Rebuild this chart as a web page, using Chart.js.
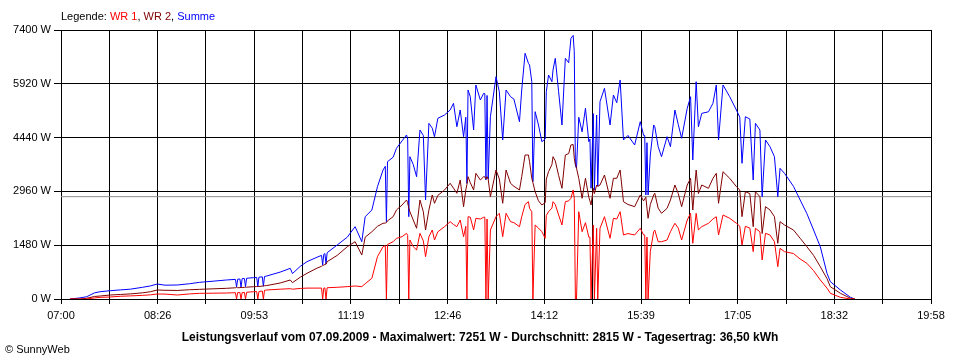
<!DOCTYPE html>
<html>
<head>
<meta charset="utf-8">
<script src="https://cdn.jsdelivr.net/npm/chart.js@4"></script>
<style>
  body { margin: 0; background: #fff; }
  #wrap { position: relative; width: 960px; height: 360px; font-family: "Liberation Sans", Arial, sans-serif; font-size: 11px; color: #000; }
  #legend { position: absolute; left: 61px; top: 10px; white-space: nowrap; }
  #title { position: absolute; left: 0; width: 960px; top: 330px; text-align: center; font-weight: bold; font-size: 12px; white-space: nowrap; }
  #footer { position: absolute; left: 5px; top: 343px; white-space: nowrap; }
  canvas { position: absolute; left: 0; top: 0; }
</style>
</head>
<body>
<div id="wrap">
  <canvas id="chart" width="960" height="360"></canvas>
  <div id="legend">Legende: <span style="color:#ff0000">WR 1</span>, <span style="color:#800000">WR 2</span>, <span style="color:#0000ff">Summe</span></div>
  <div id="title">Leistungsverlauf vom 07.09.2009 - Maximalwert: 7251 W - Durchschnitt: 2815 W - Tagesertrag: 36,50 kWh</div>
  <div id="footer">© SunnyWeb</div>
</div>
<script>
const X_LABELS = ['07:00', '08:26', '09:53', '11:19', '12:46', '14:12', '15:39', '17:05', '18:32', '19:58']
const Y_MAX = 7400
const Y_STEP = 1480
const AVG = 2815

// one row per stretch of the day, same layout in every array
const TIMES = [
  '07:08','07:17','07:23','07:30','07:35','07:44','07:53','08:02','08:13','08:20','08:26','08:33','08:44','08:55',
  '09:04','09:16','09:28','09:36','09:37','09:38','09:40','09:41','09:42','09:44','09:45','09:46','09:52','09:55','09:56','09:57',
  '10:00','10:01','10:02','10:04','10:16','10:25','10:27','10:34','10:40','10:49','10:53','10:54','10:55','10:56','10:57','10:58',
  '11:07','11:16','11:23','11:29','11:32','11:38','11:43','11:48','11:50','11:51','11:52','11:57',
  '12:00','12:05','12:09','12:10','12:11','12:12','12:15','12:18','12:21','12:24','12:26','12:29','12:32','12:34','12:37',
  '12:43','12:48','12:51','12:54','12:57','13:00','13:02','13:03','13:04','13:06','13:09','13:11','13:15','13:18','13:19','13:20','13:21','13:22','13:24',
  '13:29','13:32','13:35','13:38','13:42','13:45','13:50','13:52','13:55','13:58','13:59','14:01','14:02','14:04','14:07','14:10','14:13',
  '14:14','14:16','14:19','14:20','14:22','14:25','14:28','14:31','14:34','14:36','14:38','14:39','14:40','14:41','14:43','14:46','14:49','14:52','14:53','14:54','14:56','14:57','14:59',
  '15:00','15:02','15:06','15:11','15:14','15:17','15:20','15:23','15:27','15:33','15:38','15:41','15:42','15:43','15:44','15:45','15:47','15:50','15:51','15:54','15:57',
  '16:02','16:05','16:09','16:12','16:15','16:20','16:23','16:25','16:28','16:30','16:33','16:39','16:43','16:46','16:48','16:52','16:58',
  '17:04','17:07','17:09','17:12','17:16','17:19','17:21','17:25','17:27','17:30','17:34','17:38','17:41','17:43','17:47','17:55',
  '18:01','18:07','18:13','18:19','18:25','18:28','18:37','18:46','18:50'
]

const SUMME = [
  0, 30, 63, 170, 200, 228, 250, 270, 322, 360, 412, 380, 385, 420,
  459, 490, 523, 540, 330, 545, 550, 330, 560, 565, 340, 570, 587, 595, 340, 600,
  610, 350, 620, 633, 740, 844, 700, 900, 1027, 1150, 1200, 935, 1230, 1250, 960, 1274,
  1486, 1700, 1990, 1576, 2264, 2448, 3089, 3549, 3650, 2127, 3777, 3900,
  4146, 4350, 4512, 4400, 2264, 3915, 3700, 3365, 4649, 4500, 2723, 4833, 4700, 4465, 4971,
  5062, 5200, 5384, 4740, 5199, 4465, 5000, 3180, 5750, 5565, 4649, 5887, 5474, 5659, 5650, 3274, 5600, 3300, 5015,
  6116, 5700, 4374, 5750, 5565, 5500, 4878, 5750, 6759, 6484, 6437, 5978, 3227, 5153, 4787, 4327, 4400,
  5703, 6162, 5978, 6300, 6621, 5703, 4787, 6621, 6500, 7172, 7251, 6800, 3686, 3600, 5000, 4600, 5246, 4327, 4400, 3045, 5100, 3000, 5062,
  3100, 5428, 5796, 4787, 5612, 5400, 6025, 4374, 4500, 4237, 4878, 4500, 4500, 2861, 4300, 2861, 3961, 4787, 4740, 4190, 3915,
  4465, 4190, 5199, 4800, 4420, 5246, 5565, 3824, 5978, 4740, 5107, 5150, 5384, 5887, 4374, 5887, 5565,
  5199, 5000, 3733, 5015, 4950, 3274, 4833, 4649, 2815, 4374, 4190, 3915, 2815, 3595, 3457, 3100,
  2723, 2350, 1898, 1439, 707, 477, 248, 46, 0
]

const WR2 = [
  0, 0, 20, 70, 82, 110, 125, 140, 170, 200, 248, 240, 235, 255,
  266, 280, 294, 309, 320, 310, 312, 320, 315, 320, 320, 325, 338, 342, 345, 345,
  355, 360, 365, 370, 440, 523, 450, 600, 707, 850, 900, 920, 930, 950, 960, 1027,
  1200, 1439, 1576, 1210, 1700, 1850, 2000, 2083, 2090, 2100, 2150, 2264,
  2450, 2586, 2723, 2650, 2500, 2402, 2173, 1945, 2723, 2400, 1898, 2450, 2861, 2633, 2850,
  2999, 3183, 3050, 2908, 3274, 2540, 3000, 3150, 3365, 3200, 3000, 3457, 3274, 3365, 3360, 3300, 3365, 3300, 2815,
  3549, 3300, 2633, 3549, 3183, 3100, 2999, 3365, 3961, 3961, 3777, 3320, 3200, 2952, 2700, 2586, 2650,
  3300, 3502, 3700, 3915, 3800, 3400, 3045, 3961, 4000, 4237, 4250, 3871, 3700, 3600, 3320, 2770, 3320, 2800, 2700, 2586, 3045, 2900, 3136,
  3100, 3136, 3411, 2770, 3320, 3320, 3549, 2677, 2600, 2540, 2861, 2700, 2750, 2800, 2500, 2220, 2600, 2861, 2908, 2500, 2358,
  2495, 2723, 3136, 2900, 2540, 3136, 3320, 2448, 3549, 2900, 3136, 3045, 3320, 3457, 2633, 3502, 3320,
  3090, 3000, 2264, 2952, 2900, 1990, 2952, 2815, 1800, 2540, 2450, 2264, 1532, 2127, 2036, 1898,
  1670, 1439, 1200, 889, 560, 338, 157, 20, 0
]

const WR1 = [
  0, 0, 0, 30, 46, 55, 75, 85, 100, 115, 137, 135, 110, 140,
  156, 160, 165, 173, 0, 175, 178, 0, 180, 182, 0, 185, 200, 203, 0, 205,
  220, 0, 240, 248, 270, 284, 270, 290, 300, 300, 300, 0, 300, 305, 0, 310,
  322, 340, 358, 340, 420, 569, 1164, 1439, 1470, 0, 1500, 1576,
  1669, 1714, 1807, 1750, 0, 1623, 1439, 1348, 1807, 1600, 1164, 1714, 1898, 1623, 1850,
  1990, 2127, 2050, 1990, 2173, 1714, 2000, 0, 2264, 2250, 1900, 2220, 2200, 2250, 2250, 0, 2200, 0, 1898,
  2264, 2358, 1714, 2358, 2127, 2100, 1990, 2264, 2600, 2677, 2495, 2400, 0, 2036, 1950, 1852, 1669,
  2300, 2402, 2500, 2677, 2600, 2311, 2036, 2677, 2700, 2770, 3000, 2770, 0, 0, 2402, 1852, 2100, 1700, 1700, 0, 2036, 0, 1945,
  0, 1945, 2264, 1669, 2220, 2200, 2402, 1761, 1800, 1761, 1945, 1761, 1761, 0, 1700, 0, 1302, 1852, 1898, 1576, 1576,
  1623, 1852, 2083, 1950, 1623, 2173, 2358, 1532, 2358, 1900, 1990, 2083, 2200, 2264, 1761, 2311, 2220,
  2083, 2000, 1486, 2000, 1950, 1302, 1945, 1850, 1073, 1807, 1761, 1576, 889, 1394, 1302, 1250,
  1100, 982, 780, 523, 300, 157, 46, 0, 0
]

const X_MIN = 7 * 60
const X_MAX = 19 * 60 + 58
const GRID_STEPS = 18

function toMin(t) {
  const [h, m] = t.split(':').map(Number)
  return h * 60 + m
}
const xs = TIMES.map(toMin)
const pts = arr => arr.map((v, i) => ({ x: xs[i], y: v }))

const FONT = { family: '"Liberation Sans", Arial, sans-serif', size: 11 }

new Chart(document.getElementById('chart'), {
  type: 'line',
  data: {
    datasets: [
      { label: 'WR 1', data: pts(WR1), borderColor: '#ff0000' },
      { label: 'WR 2', data: pts(WR2), borderColor: '#800000' },
      { label: 'Summe', data: pts(SUMME), borderColor: '#0000ff' },
      { label: 'Durchschnitt', data: [{ x: X_MIN, y: AVG }, { x: X_MAX, y: AVG }], borderColor: '#8c8c8c' },
    ],
  },
  options: {
    responsive: false,
    animation: false,
    layout: { padding: { top: 30, right: 29, left: 0, bottom: 0 } },
    plugins: { legend: { display: false }, tooltip: { enabled: false } },
    elements: { point: { radius: 0 }, line: { borderWidth: 1, tension: 0 } },
    scales: {
      x: {
        type: 'linear',
        min: X_MIN,
        max: X_MAX,
        afterBuildTicks: s => {
          const ticks = []
          for (let i = 0; i <= GRID_STEPS; i++) ticks.push({ value: X_MIN + i * (X_MAX - X_MIN) / GRID_STEPS })
          s.ticks = ticks
        },
        afterFit: s => { s.height = 61 },
        grid: { color: '#000', lineWidth: 1, tickLength: 5 },
        border: { color: '#000' },
        ticks: {
          autoSkip: false,
          maxRotation: 0,
          color: '#000',
          font: FONT,
          padding: 5,
          callback: (v, i) => (i % 2 === 0 ? X_LABELS[i / 2] : ''),
        },
      },
      y: {
        min: 0,
        max: Y_MAX,
        afterFit: s => { s.width = 61 },
        grid: { color: '#000', lineWidth: 1, tickLength: 7 },
        border: { color: '#000' },
        ticks: { stepSize: Y_STEP, color: '#000', font: FONT, padding: 3, callback: v => v + ' W' },
      },
    },
  },
})
</script>
</body>
</html>
